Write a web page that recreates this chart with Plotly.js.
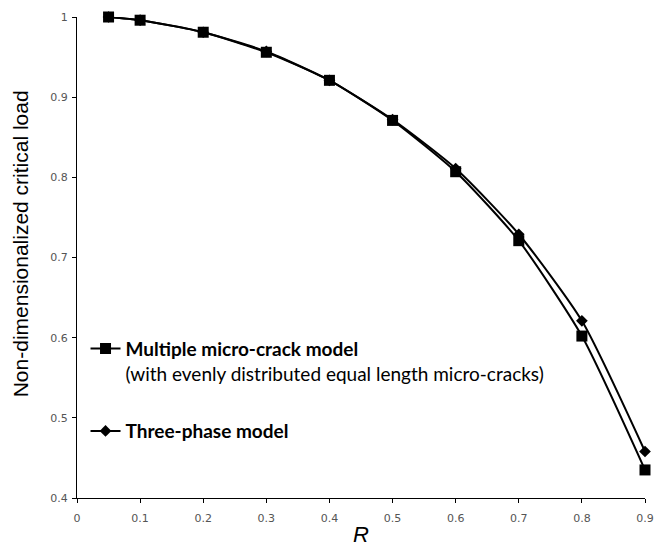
<!DOCTYPE html>
<html>
<head>
<meta charset="utf-8">
<script src="https://cdn.plot.ly/plotly-3.0.1.min.js"></script>
<style>html,body{margin:0;padding:0;background:#fff}#chart{width:656px;height:547px}</style>
</head>
<body>
<div id="chart"></div>
<script>
const R = [0.05, 0.1, 0.2, 0.3, 0.4, 0.5, 0.6, 0.7, 0.8, 0.9];
const multiCrack = [1.0, 0.996, 0.981, 0.956, 0.921, 0.871, 0.807, 0.721, 0.602, 0.435];
const threePhase = [1.0, 0.996, 0.981, 0.957, 0.921, 0.872, 0.811, 0.729, 0.621, 0.458];
const seriesNames = ["<b>Multiple micro-crack model</b><br>(with evenly distributed equal length micro-cracks)", "<b>Three-phase model</b>"];
const xTicks = [0, 0.1, 0.2, 0.3, 0.4, 0.5, 0.6, 0.7, 0.8, 0.9];
const yTicks = [0.4, 0.5, 0.6, 0.7, 0.8, 0.9, 1];
const yTitle = 'Non-dimensionalized critical load';

const traces = [
  {x: R, y: multiCrack, name: seriesNames[0], legendgroup: 'a', mode: 'lines+markers', cliponaxis: false,
   line: {color: '#000', width: 2, shape: 'spline', smoothing: 0.6},
   marker: {symbol: 'square', size: 11, color: '#000'}},
  {x: R, y: threePhase, name: seriesNames[1], legendgroup: 'b', mode: 'lines+markers', cliponaxis: false,
   line: {color: '#000', width: 2, shape: 'spline', smoothing: 0.6},
   marker: {symbol: 'diamond', size: 9, color: '#000'}}
];

const layout = {
  width: 656, height: 547,
  margin: {l: 77, r: 11, t: 17, b: 49},
  paper_bgcolor: '#fff', plot_bgcolor: '#fff',
  showlegend: true,
  legend: {x: 0.015, y: 0.35, xanchor: 'left', yanchor: 'top', valign: 'top',
    traceorder: 'grouped',
    font: {family: 'Lato, "Open Sans", sans-serif', size: 19, color: '#000'},
    tracegroupgap: 30, bgcolor: 'rgba(0,0,0,0)'},
  xaxis: {range: [0, 0.9], tickvals: xTicks, showgrid: false, zeroline: false,
    showline: true, linecolor: '#000', linewidth: 1, ticks: 'outside', ticklen: 4, tickcolor: '#000',
    ticklabelstandoff: 6,
    tickfont: {family: '"DejaVu Sans", Verdana, sans-serif', size: 11, color: '#555'},
    title: {text: '<i>R</i>', font: {family: '"Liberation Sans", Arial, sans-serif', size: 22, color: '#000'}, standoff: 4}},
  yaxis: {range: [0.4, 1], tickvals: yTicks, showgrid: false, zeroline: false,
    showline: true, linecolor: '#000', linewidth: 1, ticks: 'outside', ticklen: 4, tickcolor: '#000',
    ticklabelstandoff: 2,
    tickfont: {family: '"DejaVu Sans", Verdana, sans-serif', size: 11, color: '#555'}},
  annotations: [{text: yTitle, xref: 'paper', yref: 'paper', x: -0.099, y: 0.529,
    xanchor: 'center', yanchor: 'middle', textangle: -90, showarrow: false,
    font: {family: '"Liberation Sans", Arial, sans-serif', size: 21, color: '#000'}}]
};

Plotly.newPlot('chart', traces, layout, {displayModeBar: false, staticPlot: true});
</script>
</body>
</html>
